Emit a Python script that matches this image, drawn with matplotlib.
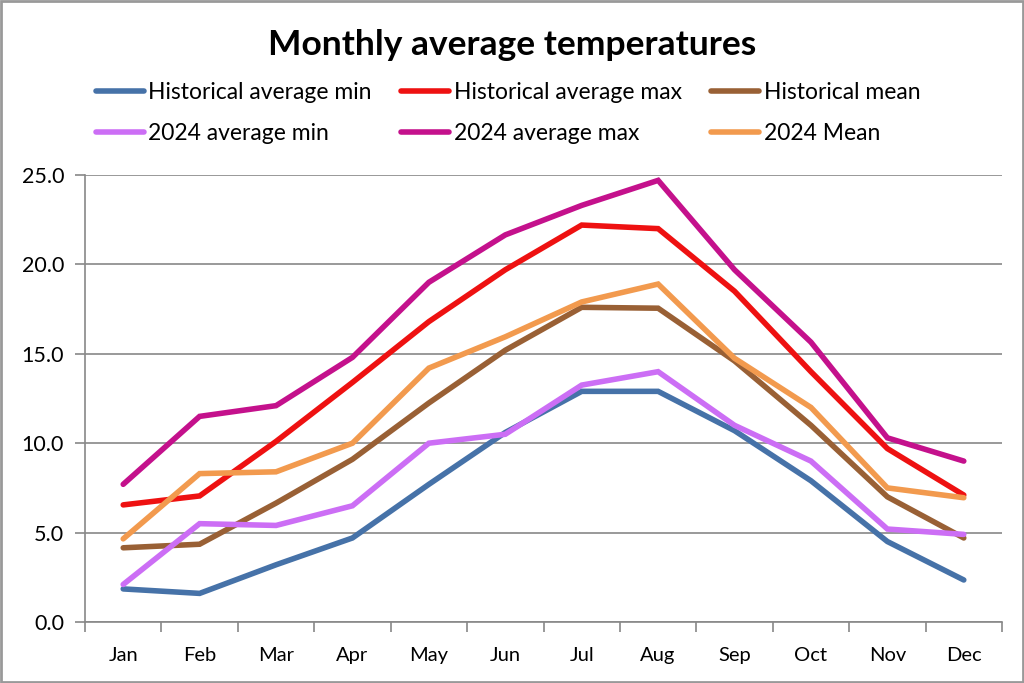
import matplotlib
matplotlib.use("Agg")
import matplotlib.pyplot as plt
from matplotlib.patches import Rectangle

months = ["Jan", "Feb", "Mar", "Apr", "May", "Jun", "Jul", "Aug", "Sep", "Oct", "Nov", "Dec"]
hist_min = [1.85, 1.6, 3.2, 4.7, 7.7, 10.6, 12.9, 12.9, 10.7, 7.9, 4.5, 2.35]
hist_max = [6.55, 7.05, 10.1, 13.4, 16.8, 19.7, 22.2, 22.0, 18.5, 14.0, 9.7, 7.1]
hist_mean = [4.15, 4.35, 6.65, 9.1, 12.25, 15.2, 17.6, 17.55, 14.6, 11.0, 7.0, 4.7]
y24_min = [2.1, 5.5, 5.4, 6.5, 10.0, 10.5, 13.25, 14.0, 11.0, 9.0, 5.2, 4.9]
y24_max = [7.7, 11.5, 12.1, 14.8, 19.0, 21.65, 23.3, 24.7, 19.7, 15.65, 10.3, 9.0]
y24_mean = [4.65, 8.3, 8.4, 10.0, 14.2, 15.95, 17.9, 18.9, 14.75, 12.0, 7.5, 6.95]

series = [
    ("Historical average min", hist_min, "#4672A8"),
    ("Historical average max", hist_max, "#EE1111"),
    ("Historical mean", hist_mean, "#996035"),
    ("2024 average min", y24_min, "#CC6EF5"),
    ("2024 average max", y24_max, "#C4118C"),
    ("2024 Mean", y24_mean, "#F29A4E"),
]

plt.rcParams['font.family'] = ['Lato', 'DejaVu Sans']

fig = plt.figure(figsize=(10.24, 6.83), dpi=100)
ax = fig.add_axes([85/1024, 61/683, 917/1024, 447/683])

x = list(range(len(months)))
handles = []
for name, vals, col in series:
    h, = ax.plot(x, vals, color=col, lw=4, label=name, solid_capstyle='round', solid_joinstyle='miter')
    handles.append(h)

ax.set_xlim(-0.5, 11.5)
ax.set_ylim(0, 25)
ax.set_yticks([0, 5, 10, 15, 20, 25])
ax.set_yticklabels([f"{v:.1f}" for v in [0, 5, 10, 15, 20, 25]])
ax.set_xticks(x)
ax.set_xticklabels(months)
ax.set_xticks([i - 0.5 for i in range(13)], minor=True)
ax.tick_params(axis='x', which='major', length=0, pad=18, labelsize=14.5)
ax.tick_params(axis='x', which='minor', length=7, color='#888888', width=1.2)
ax.tick_params(axis='y', which='major', length=7, color='#888888', width=1.2, labelsize=15.5, pad=8)
ax.grid(axis='y', color='#888888', lw=1.2)
ax.set_axisbelow(True)
for s in ['top', 'right']:
    ax.spines[s].set_visible(False)
for s in ['left', 'bottom']:
    ax.spines[s].set_color('#888888')
    ax.spines[s].set_linewidth(1.2)

fig.text(0.5, 1 - 45/683, "Monthly average temperatures", ha='center', va='center',
         fontsize=25.5, fontweight='bold')

# order handles so the legend reads row by row like the reference
order = [0, 3, 1, 4, 2, 5]
leg = fig.legend(handles=[handles[i] for i in order], loc='center',
                 bbox_to_anchor=(508/1024, 1 - 113/683), ncol=3,
                 frameon=False, fontsize=16.5, handlelength=2.1, handletextpad=0.18,
                 columnspacing=1.3, labelspacing=0.9)

fig.patches.append(Rectangle((0.001, 0.001), 0.998, 0.997, transform=fig.transFigure,
                             fill=False, edgecolor='#999999', lw=2))

fig.savefig("out.png", dpi=100)
